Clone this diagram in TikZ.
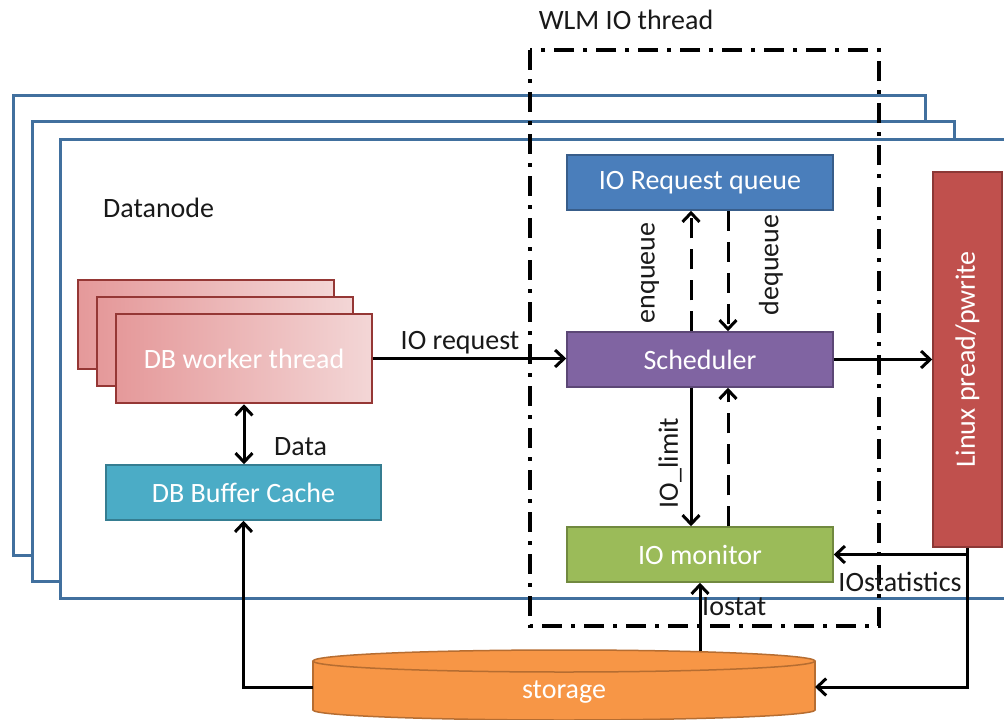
\documentclass[tikz,border=0pt]{standalone}
\usepackage{fontspec}
\setmainfont{Carlito}
\usetikzlibrary{arrows.meta}
\definecolor{frameblue}{HTML}{41709E}
\definecolor{qfill}{HTML}{4A7EBB}
\definecolor{qdraw}{HTML}{385D8A}
\definecolor{sfill}{HTML}{8064A2}
\definecolor{sdraw}{HTML}{5C4776}
\definecolor{mfill}{HTML}{9BBB59}
\definecolor{mdraw}{HTML}{71893F}
\definecolor{lfill}{HTML}{C0504D}
\definecolor{ldraw}{HTML}{8C3836}
\definecolor{bfill}{HTML}{4BACC6}
\definecolor{bdraw}{HTML}{357D91}
\definecolor{stfill}{HTML}{F79646}
\definecolor{stdraw}{HTML}{B66D31}
\definecolor{pinkL}{HTML}{E5999A}
\definecolor{pinkR}{HTML}{F3D6D6}
\definecolor{wdraw}{HTML}{953735}
\begin{document}
\begin{tikzpicture}[x=1pt,y=-1pt,
  every node/.style={font=\fontsize{28}{33}\selectfont, inner sep=0pt},
  box/.style={draw, line width=1.5pt, minimum width=266pt, minimum height=55pt, text=white},
  workerbox/.style={draw=wdraw, line width=2.5pt, left color=pinkL, right color=pinkR, minimum width=256pt, minimum height=89pt, text=white},
  frame/.style={draw=frameblue, fill=white, line width=3pt},
  arr/.style={line width=3pt, -{Straight Barb[length=9pt,width=17pt]}},
  darr/.style={arr, dash pattern=on 20pt off 11pt},
  lbl/.style={text=black!90}
]
\useasboundingbox (0,0) rectangle (1004,720);
\clip (0,0) rectangle (1004,720);
\fill[white] (0,0) rectangle (1004,720);

% datanode frames
\draw[frame] (13,95) rectangle (925,555);
\draw[frame] (32,121) rectangle (954,581);
\draw[frame] (60,139) rectangle (1040,598);

% WLM IO thread box
\draw[line width=3.5pt, dash pattern=on 20pt off 9pt on 4pt off 9pt] (530,50) rectangle (879,626);
\node[lbl] (wlm) at (626,20) {WLM IO thread};
\node[lbl, anchor=west] (dn) at (103,208) {Datanode};

% boxes
\node[box, fill=qfill, draw=qdraw] (queue) at (700,182.5) {IO Request queue};
\node[box, fill=sfill, draw=sdraw] (sched) at (700,359.5) {Scheduler};
\node[box, fill=mfill, draw=mdraw] (mon) at (700,554.5) {IO monitor};
\node[box, fill=lfill, draw=ldraw, minimum width=69pt, minimum height=375pt] (linux) at (967.5,359.5) {\rotatebox{90}{Linux pread/pwrite}};
\node[box, fill=bfill, draw=bdraw, minimum width=275pt] (buf) at (243.5,492.5) {DB Buffer Cache};

\node[workerbox] (wk3) at (206,324.5) {};
\node[workerbox] (wk2) at (225,341.5) {};
\node[workerbox] (wk1) at (244,358.5) {DB worker thread};

% storage cylinder
\filldraw[fill=stfill, draw=stdraw, line width=1.5pt] (564,710) ellipse [x radius=251, y radius=10];
\fill[stfill] (313,661) rectangle (815,710);
\draw[stdraw, line width=1.5pt] (313,661) -- (313,710) (815,661) -- (815,710);
\filldraw[fill=stfill, draw=stdraw, line width=1.5pt] (564,661) ellipse [x radius=251, y radius=11];
\node[text=white] (sttxt) at (564,692) {storage};
\coordinate (stL) at (313,687);
\coordinate (stR) at (815,687);
\coordinate (stT) at (700,651);

% connectors
\draw[arr] (wk1.east) -- (wk1.east -| sched.west);
\node[lbl] (lreq) at (460,343) {IO request};
\draw[arr] (sched.east) -- (linux.west);
\draw[darr] ([xshift=-9pt]sched.north) -- ([xshift=-9pt]queue.south);
\draw[darr] ([xshift=28pt]queue.south) -- ([xshift=28pt]sched.north);
\node[lbl, rotate=90] (lenq) at (650,273) {enqueue};
\node[lbl, rotate=90] (ldeq) at (771,265) {dequeue};
\draw[arr] ([xshift=-9pt]sched.south) -- ([xshift=-9pt]mon.north);
\draw[darr] ([xshift=28pt]mon.north) -- ([xshift=28pt]sched.south);
\node[lbl, rotate=90] (llim) at (670,463) {IO\_limit};
\draw[arr] (linux.south) |- (stR);
\draw[arr] (linux.south |- mon.east) -- (mon.east);
\node[lbl] (lstat) at (900,582) {IOstatistics};
\draw[arr] (stT) -- (stT |- mon.south);
\node[lbl, anchor=west] (liostat) at (702,607) {Iostat};
\draw[arr] (stL) -| (buf.south);
\draw[line width=3pt, {Straight Barb[length=9pt,width=17pt]}-{Straight Barb[length=9pt,width=17pt]}] (wk1.south) -- (wk1.south |- buf.north);
\node[lbl, anchor=west] (ldata) at (274,447) {Data};
\end{tikzpicture}
\end{document}
